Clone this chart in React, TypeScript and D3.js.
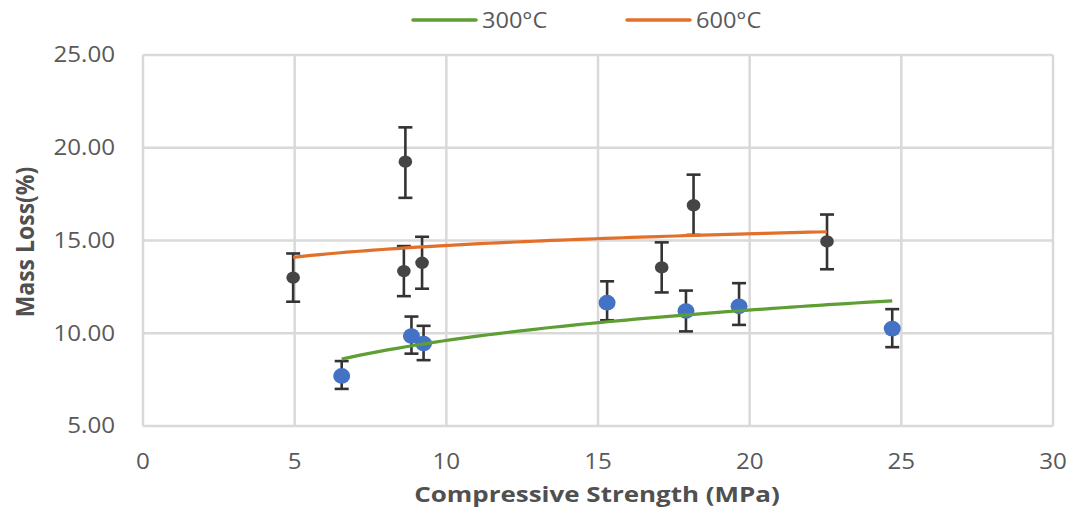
import React from "react";
import * as d3 from "d3";

// ---- data ----
const strength300 = [6.55, 8.85, 9.25, 15.3, 17.9, 19.65, 24.7];
const loss300 = [7.7, 9.85, 9.45, 11.65, 11.2, 11.45, 10.25];
const errLow300 = [7.0, 8.9, 8.55, 10.7, 10.1, 10.45, 9.25];
const errHigh300 = [8.5, 10.9, 10.4, 12.8, 12.3, 12.7, 11.3];

const strength600 = [4.95, 8.65, 8.6, 9.2, 17.1, 18.15, 22.55];
const loss600 = [13.0, 19.25, 13.35, 13.8, 13.55, 16.9, 14.95];
const errLow600 = [11.7, 17.3, 12.0, 12.4, 12.2, 15.3, 13.45];
const errHigh600 = [14.3, 21.1, 14.7, 15.2, 14.9, 18.55, 16.4];

// logarithmic trendline coefficients (y = a + b ln x)
const trend300 = { a: 4.16, b: 2.367 };
const trend600 = { a: 12.636, b: 0.91 };

const xTicks = [0, 5, 10, 15, 20, 25, 30];
const yTicks = [5, 10, 15, 20, 25];

const legendItems = [
  { label: "300°C", color: "#5E9E34" },
  { label: "600°C", color: "#E2702A" },
];

const W = 1073;
const H = 510;
const plot = { left: 143, right: 1053, top: 55, bottom: 426 };
const font = "'Open Sans', 'Segoe UI', sans-serif";

function SText(props: {
  x: number;
  y: number;
  sx?: number;
  rotate?: number;
  anchor?: "start" | "middle" | "end";
  size: number;
  bold?: boolean;
  fill?: string;
  children: React.ReactNode;
}) {
  const { x, y, sx = 1.15, rotate = 0, anchor = "start", size, bold, fill = "#595959", children } = props;
  const tf = rotate
    ? `translate(${x},${y}) rotate(${rotate}) scale(1,${sx})`
    : `translate(${x},${y}) scale(${sx},1)`;
  return (
    <text
      transform={tf}
      dy="0.35em"
      textAnchor={anchor}
      fontSize={size}
      fontWeight={bold ? "bold" : "normal"}
      fill={fill}
      fontFamily={font}
    >
      {children}
    </text>
  );
}

export default function App() {
  const x = d3.scaleLinear().domain([0, 30]).range([plot.left, plot.right]);
  const y = d3.scaleLinear().domain([5, 25]).range([plot.bottom, plot.top]);

  const trendPath = (xs: number[], t: { a: number; b: number }) => {
    const lo = d3.min(xs)!;
    const hi = d3.max(xs)!;
    const pts = d3.range(0, 61).map((i) => lo + ((hi - lo) * i) / 60);
    return d3
      .line<number>()
      .x((v) => x(v))
      .y((v) => y(t.a + t.b * Math.log(v)))(pts)!;
  };

  const grid = "#D9D9D9";
  const errColor = "#333333";

  const errorBars = (xs: number[], lo: number[], hi: number[], key: string) =>
    xs.map((xv, i) => (
      <g key={key + i} stroke={errColor} strokeWidth={2.6}>
        <line x1={x(xv)} x2={x(xv)} y1={y(lo[i])} y2={y(hi[i])} />
        <line x1={x(xv) - 7} x2={x(xv) + 7} y1={y(lo[i])} y2={y(lo[i])} />
        <line x1={x(xv) - 7} x2={x(xv) + 7} y1={y(hi[i])} y2={y(hi[i])} />
      </g>
    ));

  return (
    <svg width={W} height={H} style={{ position: "absolute", left: 0, top: 0, background: "#fff" }}>
      <rect x={0} y={0} width={W} height={H} fill="#fff" />
      {/* grid */}
      {xTicks.map((t) => (
        <line key={"gx" + t} x1={x(t)} x2={x(t)} y1={plot.top} y2={plot.bottom} stroke={grid} strokeWidth={2.5} />
      ))}
      {yTicks.map((t) => (
        <line key={"gy" + t} x1={plot.left} x2={plot.right} y1={y(t)} y2={y(t)} stroke={grid} strokeWidth={2.5} />
      ))}
      {/* tick labels */}
      {yTicks.map((t) => (
        <SText key={"ty" + t} x={115} y={y(t)} anchor="end" size={21}>
          {t.toFixed(2)}
        </SText>
      ))}
      {xTicks.map((t) => (
        <SText key={"tx" + t} x={x(t)} y={462} anchor="middle" size={21}>
          {t}
        </SText>
      ))}
      {/* axis titles */}
      <SText x={597} y={494} anchor="middle" size={22} bold sx={1.18} fill="#505050">
        Compressive Strength (MPa)
      </SText>
      <SText x={25} y={242} rotate={-90} anchor="middle" size={23} bold sx={1.1} fill="#505050">
        Mass Loss(%)
      </SText>
      {/* error bars */}
      {errorBars(strength600, errLow600, errHigh600, "e6")}
      {errorBars(strength300, errLow300, errHigh300, "e3")}
      {/* markers */}
      {strength600.map((xv, i) => (
        <ellipse key={"m6" + i} cx={x(xv)} cy={y(loss600[i])} rx={6.8} ry={6.2} fill="#454545" />
      ))}
      {strength300.map((xv, i) => (
        <ellipse key={"m3" + i} cx={x(xv)} cy={y(loss300[i])} rx={8.5} ry={7.8} fill="#4472C4" />
      ))}
      {/* trendlines */}
      <path d={trendPath(strength300, trend300)} fill="none" stroke={legendItems[0].color} strokeWidth={3.2} />
      <path d={trendPath(strength600, trend600)} fill="none" stroke={legendItems[1].color} strokeWidth={3.2} />
      {/* legend */}
      {legendItems.map((it, i) => {
        const lx = i === 0 ? 413 : 627;
        return (
          <g key={"lg" + i}>
            <line x1={lx} x2={lx + 63} y1={20} y2={20} stroke={it.color} strokeWidth={3.5} strokeLinecap="round" />
            <SText x={lx + 69} y={20} size={22} sx={1.07}>
              {it.label}
            </SText>
          </g>
        );
      })}
    </svg>
  );
}
